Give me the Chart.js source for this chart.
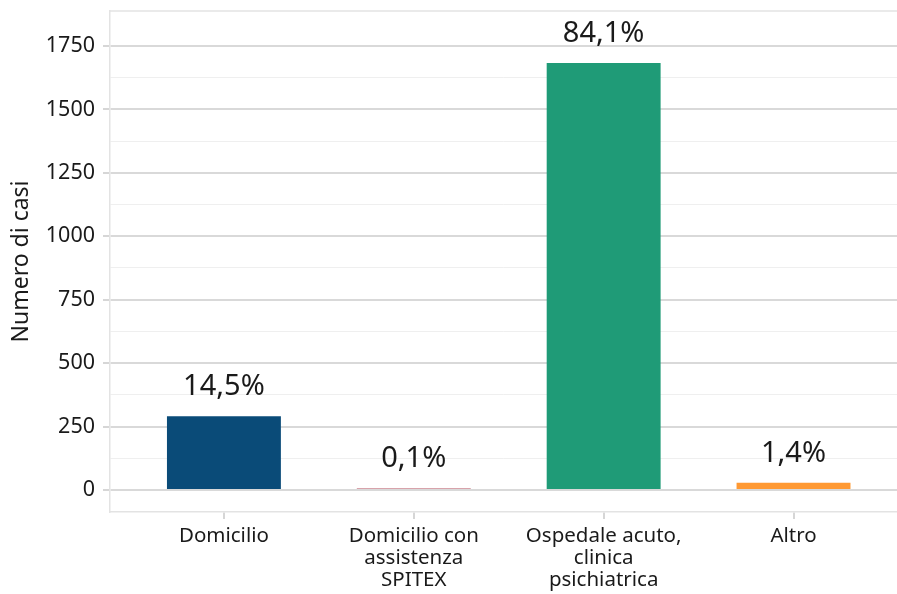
<!DOCTYPE html>
<html>
<head>
<meta charset="utf-8">
<script src="https://cdn.jsdelivr.net/npm/chart.js@4/dist/chart.umd.min.js"></script>
<style>
html,body{margin:0;padding:0;background:#fff;}
#wrap{width:897px;height:594px;position:relative;}
</style>
</head>
<body>
<div id="wrap"><canvas id="c" width="897" height="594"></canvas></div>
<script>
const categories = ['Domicilio', ['Domicilio con', 'assistenza', 'SPITEX'], ['Ospedale acuto,', 'clinica', 'psichiatrica'], 'Altro'];
const values = [290, 2, 1683, 28];
const percentLabels = ['14,5%', '0,1%', '84,1%', '1,4%'];
const barColors = ['#0a4b78', '#d8a3ab', '#1f9b77', '#ff9933'];
const yTicks = [0, 125, 250, 375, 500, 625, 750, 875, 1000, 1125, 1250, 1375, 1500, 1625, 1750];
const yAxisTitle = 'Numero di casi';

const FONT = "'Noto Sans', 'Open Sans', sans-serif";
const TXT = '#1a1a1a';

const labelPlugin = {
  id: 'pctLabels',
  beforeDatasetsDraw(chart) {
    const { ctx, chartArea } = chart;
    ctx.save();
    ctx.strokeStyle = '#e3e3e3';
    ctx.lineWidth = 1.5;
    ctx.beginPath();
    ctx.moveTo(chartArea.left, chartArea.top);
    ctx.lineTo(chartArea.right, chartArea.top);
    ctx.stroke();
    ctx.restore();
  },
  afterDatasetsDraw(chart) {
    const { ctx } = chart;
    const meta = chart.getDatasetMeta(0);
    ctx.save();
    ctx.font = '29px ' + FONT;
    ctx.fillStyle = TXT;
    ctx.textAlign = 'center';
    ctx.textBaseline = 'alphabetic';
    meta.data.forEach((bar, i) => {
      ctx.fillText(percentLabels[i], bar.x, bar.y - 21);
    });
    ctx.restore();
  }
};

new Chart(document.getElementById('c'), {
  type: 'bar',
  data: {
    datasets: [{
      data: values.map((v, i) => ({ x: i + 1, y: v })),
      backgroundColor: barColors,
      borderWidth: 0,
      barPercentage: 0.6,
      categoryPercentage: 1,
      minBarLength: 2
    }]
  },
  options: {
    responsive: false,
    animation: false,
    layout: { padding: { top: 11, right: 0, left: 0, bottom: 0 } },
    plugins: { legend: { display: false }, tooltip: { enabled: false } },
    scales: {
      x: {
        type: 'linear',
        offset: false,
        min: 0.4,
        max: 4.545,
        afterBuildTicks(scale) { scale.ticks = [1, 2, 3, 4].map(v => ({ value: v })); },
        afterFit(scale) { scale.height = 82; scale.paddingLeft = 0; scale.paddingRight = 0; },
        grid: { offset: false, drawOnChartArea: false, drawTicks: true, tickLength: 7, color: '#d6d6d6', lineWidth: 2 },
        border: { display: true, color: '#e3e3e3', width: 1.5 },
        ticks: {
          autoSkip: false,
          maxRotation: 0,
          padding: 6,
          color: TXT,
          font: { family: FONT, size: 20.5, lineHeight: 1.08 },
          callback: (v) => categories[v - 1]
        }
      },
      y: {
        min: -87,
        max: 1888,
        afterBuildTicks(scale) { scale.ticks = yTicks.map(v => ({ value: v })); },
        afterFit(scale) { scale.width = 110; scale.paddingTop = 0; scale.paddingBottom = 0; },
        grid: {
          color: (c) => (c.tick && c.tick.value % 250 === 0) ? '#d9d9d9' : '#efefef',
          lineWidth: (c) => (c.tick && c.tick.value % 250 === 0) ? 2 : 1,
          tickColor: (c) => (c.tick && c.tick.value % 250 === 0) ? '#d6d6d6' : 'rgba(0,0,0,0)',
          drawTicks: true,
          tickLength: 7
        },
        border: { display: true, color: '#e3e3e3', width: 1.5 },
        ticks: {
          padding: 8,
          color: TXT,
          font: { family: FONT, size: 21.5 },
          callback: (v) => (v % 250 === 0 ? String(v) : '')
        },
        title: {
          display: true,
          text: yAxisTitle,
          color: TXT,
          font: { family: FONT, size: 23 },
          padding: { top: 8, bottom: 0 }
        }
      }
    }
  },
  plugins: [labelPlugin]
});
</script>
</body>
</html>
